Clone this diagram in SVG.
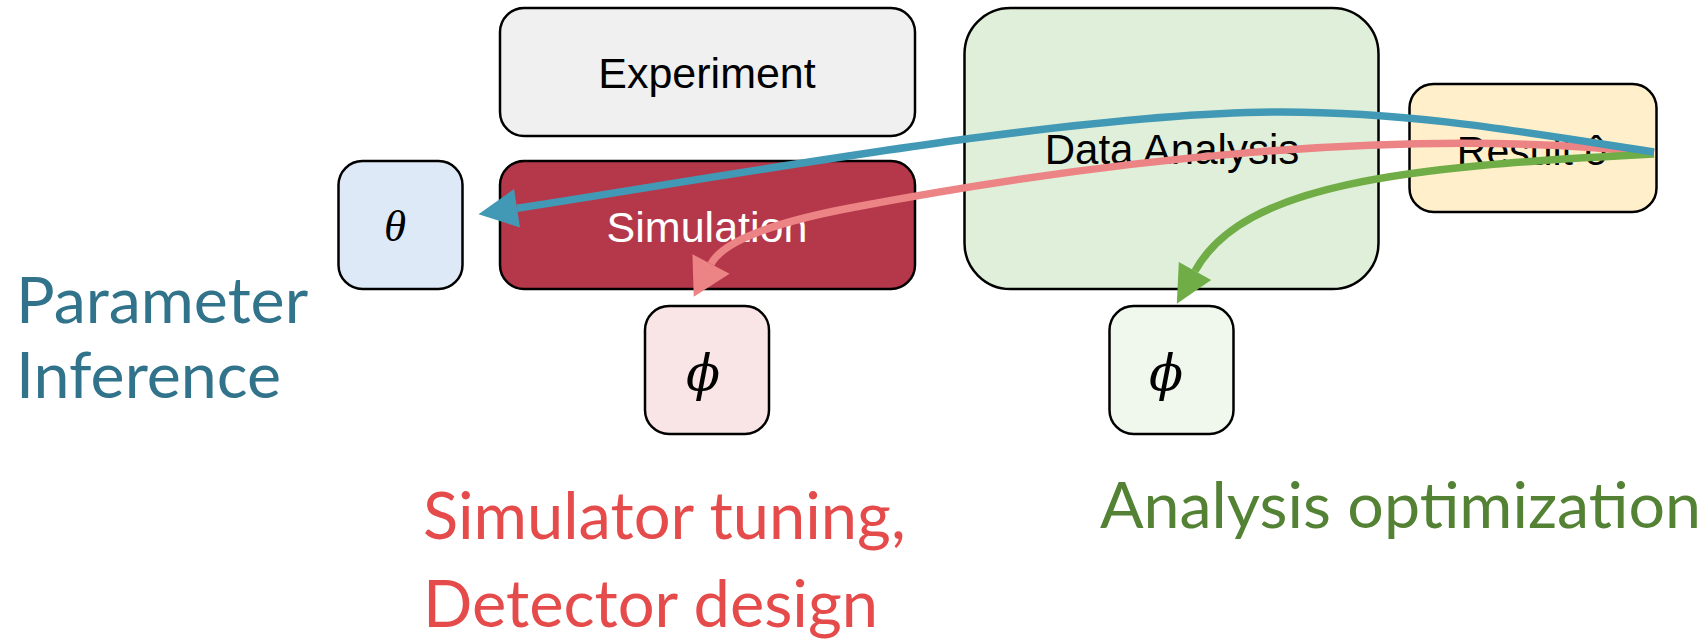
<svg xmlns="http://www.w3.org/2000/svg" width="1706" height="640" viewBox="0 0 1706 640">
<style>
.box{stroke:#000;stroke-width:2.5}
.lbl{font-family:"Liberation Sans",Arial,sans-serif;text-anchor:middle;fill:#000}
.math{font-family:"Liberation Serif","DejaVu Serif",serif;font-style:italic;text-anchor:middle;fill:#000}
.phi{font-family:"DejaVu Serif",serif;font-style:italic;text-anchor:middle;fill:#000;font-size:50px}
.big{font-family:Lato,"Liberation Sans",sans-serif;font-size:64.5px}
.conn{fill:none;stroke-width:7.5}
</style>
<defs>
<marker id="mb" markerUnits="userSpaceOnUse" markerWidth="40" markerHeight="42" viewBox="0 -21 40 42" refX="0" refY="0" orient="auto" overflow="visible"><path d="M0,-19.5 L39,0 L0,19.5 Z" fill="#4299b5"/></marker>
<marker id="mp" markerUnits="userSpaceOnUse" markerWidth="40" markerHeight="44" viewBox="0 -22 40 44" refX="0" refY="0" orient="auto" overflow="visible"><path d="M0,-21 L37,0 L0,21 Z" fill="#ec8385"/></marker>
<marker id="mg" markerUnits="userSpaceOnUse" markerWidth="40" markerHeight="42" viewBox="0 -21 40 42" refX="0" refY="0" orient="auto" overflow="visible"><path d="M0,-18.5 L37.5,0 L0,18.5 Z" fill="#70ad47"/></marker>
</defs>
<g id="experiment"><rect class="box" x="500" y="8" width="415" height="128" rx="24" fill="#f0f0f0"/><text class="lbl" x="707" y="88" font-size="43">Experiment</text></g>
<g id="simulation"><rect class="box" x="500" y="161" width="415" height="128" rx="24" fill="#b5384a"/><text class="lbl" x="707" y="241.5" font-size="43" style="fill:#fff">Simulation</text></g>
<g id="theta"><rect class="box" x="338.5" y="161" width="124" height="128" rx="24" fill="#dde9f6"/><text class="math" x="395" y="241" font-size="45">θ</text></g>
<g id="analysis"><rect class="box" x="964.5" y="8" width="414" height="281" rx="46" fill="#e0efd9"/><text class="lbl" x="1172" y="163.5" font-size="42">Data Analysis</text></g>
<g id="result"><rect class="box" x="1409.5" y="84" width="247" height="128" rx="24" fill="#fff0cb"/><text class="lbl" x="1532" y="165" font-size="41">Result ô</text></g>
<g id="phi-sim"><rect class="box" x="645" y="306" width="124" height="128" rx="24" fill="#f9e5e5"/><text class="phi" x="703" y="390">ϕ</text></g>
<g id="phi-ana"><rect class="box" x="1109.5" y="306" width="124" height="128" rx="24" fill="#f0f7ec"/><text class="phi" x="1166" y="390">ϕ</text></g>
<g id="connectors">
<path class="conn" stroke="#ec8385" d="M1654,153 C1404,125.5 1100,160.5 850,208 C790,219.4 725,237.5 711,264" marker-end="url(#mp)"/>
<path class="conn" stroke="#70ad47" d="M1654,154 C1404,166.5 1243.5,183.5 1195,271" marker-end="url(#mg)"/>
<path class="conn" stroke="#4299b5" d="M1654,152 C1524,132 1412,112 1282,112 C1082,112 749,172.3 517,208.3" marker-end="url(#mb)"/>
</g>
<g id="labels">
<text class="big" x="16" y="323" fill="#31738b">Parameter</text>
<text class="big" x="16" y="398" fill="#31738b">Inference</text>
<text class="big" x="423" y="539" font-size="65" style="font-size:65px" fill="#e54b4b">Simulator tuning,</text>
<text class="big" x="423" y="627" style="font-size:65px" fill="#e54b4b">Detector design</text>
<text class="big" x="1100" y="528" fill="#548235">Analysis optimization</text>
</g>
</svg>
